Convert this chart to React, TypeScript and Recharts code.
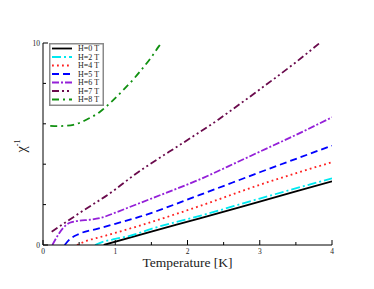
import { LineChart, Line, XAxis, YAxis, Legend } from 'recharts'

const FONT = '"Liberation Serif", "Times New Roman", serif'

const xTicks = [0, 0.5, 1, 1.5, 2, 2.5, 3, 3.5, 4]
const yTicks = [0, 2, 4, 6, 8, 10]
const xLabelTicks = [0, 1, 2, 3, 4]
const yLabelTicks = [0, 10]

// inverse susceptibility vs temperature
const h0Temp = [0.84, 1.5, 2.17, 3.0, 4.0]
const h0Chi = [0, 0.66, 1.32, 2.15, 3.15]

const h2Temp = [0.72, 0.8, 1.0, 1.2, 1.5, 2.17, 3.0, 4.0]
const h2Chi = [0, 0.12, 0.3, 0.45, 0.8, 1.44, 2.3, 3.3]

const h4Temp = [0.47, 0.6, 0.8, 1.0, 1.34, 2.17, 3.0, 4.0]
const h4Chi = [0, 0.2, 0.4, 0.6, 0.96, 1.93, 2.98, 4.1]

const h5Temp = [0.3, 0.37, 0.5, 0.75, 1.0, 1.34, 2.17, 3.0, 4.0]
const h5Chi = [0, 0.28, 0.55, 0.8, 1.05, 1.4, 2.48, 3.6, 4.92]

const h6Temp = [0.13, 0.2, 0.28, 0.37, 0.5, 0.65, 0.81, 1.0, 1.2, 1.5, 2.17, 2.7, 3.0, 3.5, 4.0]
const h6Chi = [0, 0.45, 0.85, 1.1, 1.2, 1.25, 1.35, 1.6, 1.88, 2.3, 3.25, 4.12, 4.62, 5.45, 6.32]

const h7Temp = [0.12, 0.5, 1.0, 1.2, 2.0, 2.42, 2.61, 3.0, 3.5, 3.83, 4.0]
const h7Chi = [0.66, 1.57, 2.75, 3.3, 5.2, 6.19, 6.68, 7.7, 9.05, 10, 10.5]

const h8Temp = [0.1, 0.2, 0.3, 0.42, 0.6, 0.79, 0.95, 1.11, 1.25, 1.34, 1.5, 1.6, 1.7]
const h8Chi = [5.9, 5.88, 5.9, 5.95, 6.2, 6.6, 7.1, 7.67, 8.2, 8.58, 9.3, 9.82, 10.3]

const zip = (t: number[], c: number[]) => t.map((x, i) => ({ t: x, chi: c[i] }))

const series = [
  { name: 'H=0 T', data: zip(h0Temp, h0Chi), color: '#000000', dash: undefined },
  { name: 'H=2 T', data: zip(h2Temp, h2Chi), color: '#00e8f0', dash: '9 3 2 3' },
  { name: 'H=4 T', data: zip(h4Temp, h4Chi), color: '#ff2020', dash: '1.8 3.2' },
  { name: 'H=5 T', data: zip(h5Temp, h5Chi), color: '#0000ff', dash: '7 4' },
  { name: 'H=6 T', data: zip(h6Temp, h6Chi), color: '#9420d8', dash: '7 2 2 2' },
  { name: 'H=7 T', data: zip(h7Temp, h7Chi), color: '#6a0a4c', dash: '7 3 2 3 2 3' },
  { name: 'H=8 T', data: zip(h8Temp, h8Chi), color: '#109010', dash: '7 4 2 4' },
]

function BottomTick({ x, y, payload }: any) {
  const major = xLabelTicks.includes(payload.value)
  return (
    <g>
      <line x1={x} x2={x} y1={y} y2={y - (major ? 5 : 3)} stroke="#000" />
      {major && (
        <text x={x} y={y + 9} textAnchor="middle" fontSize={7.5} fontFamily={FONT} fill="#222">
          {payload.value}
        </text>
      )}
    </g>
  )
}

function TopTick({ x, y, payload }: any) {
  const major = xLabelTicks.includes(payload.value)
  return <line x1={x} x2={x} y1={y} y2={y + (major ? 5 : 3)} stroke="#000" />
}

function LeftTick({ x, y, payload }: any) {
  const major = yLabelTicks.includes(payload.value)
  return (
    <g>
      <line x1={x} x2={x + (major ? 5 : 3)} y1={y} y2={y} stroke="#000" />
      {major && (
        <text x={x - 3} y={y + 3} textAnchor="end" fontSize={7.5} fontFamily={FONT} fill="#222">
          {payload.value}
        </text>
      )}
    </g>
  )
}

function RightTick({ x, y, payload }: any) {
  const major = yLabelTicks.includes(payload.value)
  return <line x1={x} x2={x - (major ? 5 : 3)} y1={y} y2={y} stroke="#000" />
}

function XTitle() {
  return (
    <text x={187.5} y={267} textAnchor="middle" fontSize={13.5} fontFamily={FONT} fill="#222">
      Temperature [K]
    </text>
  )
}

function YTitle() {
  return (
    <text
      x={26}
      y={146}
      transform="rotate(-90, 26, 146)"
      textAnchor="middle"
      fontSize={14}
      fontFamily={FONT}
      fill="#222"
    >
      χ<tspan dy={-6} fontSize={8}>-1</tspan>
    </text>
  )
}

function LegendBox() {
  return (
    <svg width={55} height={63} style={{ display: 'block' }}>
      <rect x={0.75} y={0.75} width={53.5} height={61.5} fill="#fff" stroke="#8a8a8a" strokeWidth={1.5} />
      {series.map((s, i) => {
        const yy = 5.5 + i * 8.5
        return (
          <g key={s.name}>
            <line x1={3} x2={23} y1={yy} y2={yy} stroke={s.color} strokeWidth={1.8} strokeDasharray={s.dash} />
            <text x={29} y={yy + 2.8} fontSize={8} fontFamily={FONT} fill="#222">
              {s.name}
            </text>
          </g>
        )
      })}
    </svg>
  )
}

export default function App() {
  return (
    <div style={{ position: 'absolute', left: 0, top: 0, background: '#fff' }}>
      <LineChart width={374} height={289} margin={{ top: 43, right: 42, left: 13, bottom: 14 }}>
        <XAxis
          dataKey="t"
          type="number"
          domain={[0, 4]}
          ticks={xTicks}
          interval={0}
          tickSize={0}
          tickMargin={0}
          tick={<BottomTick />}
          axisLine={{ stroke: '#000' }}
          height={30}
          label={<XTitle />}
          allowDataOverflow
        />
        <XAxis
          xAxisId="top"
          orientation="top"
          type="number"
          domain={[0, 4]}
          ticks={xTicks}
          interval={0}
          tickSize={0}
          tickMargin={0}
          tick={<TopTick />}
          axisLine={{ stroke: '#000' }}
          height={0}
        />
        <YAxis
          type="number"
          domain={[0, 10]}
          ticks={yTicks}
          interval={0}
          tickSize={0}
          tickMargin={0}
          tick={<LeftTick />}
          axisLine={{ stroke: '#000' }}
          width={30}
          label={<YTitle />}
          allowDataOverflow
        />
        <YAxis
          yAxisId="right"
          orientation="right"
          type="number"
          domain={[0, 10]}
          ticks={yTicks}
          interval={0}
          tickSize={0}
          tickMargin={0}
          tick={<RightTick />}
          axisLine={{ stroke: '#000' }}
          width={0}
        />
        <Legend
          layout="vertical"
          align="center"
          verticalAlign="middle"
          content={<LegendBox />}
          wrapperStyle={{ left: 49, top: 43, width: 55, height: 63 }}
        />
        {series.map(s => (
          <Line
            key={s.name}
            data={s.data}
            dataKey="chi"
            name={s.name}
            type="monotone"
            stroke={s.color}
            strokeWidth={1.8}
            strokeDasharray={s.dash}
            dot={false}
            activeDot={false}
            isAnimationActive={false}
          />
        ))}
      </LineChart>
    </div>
  )
}
